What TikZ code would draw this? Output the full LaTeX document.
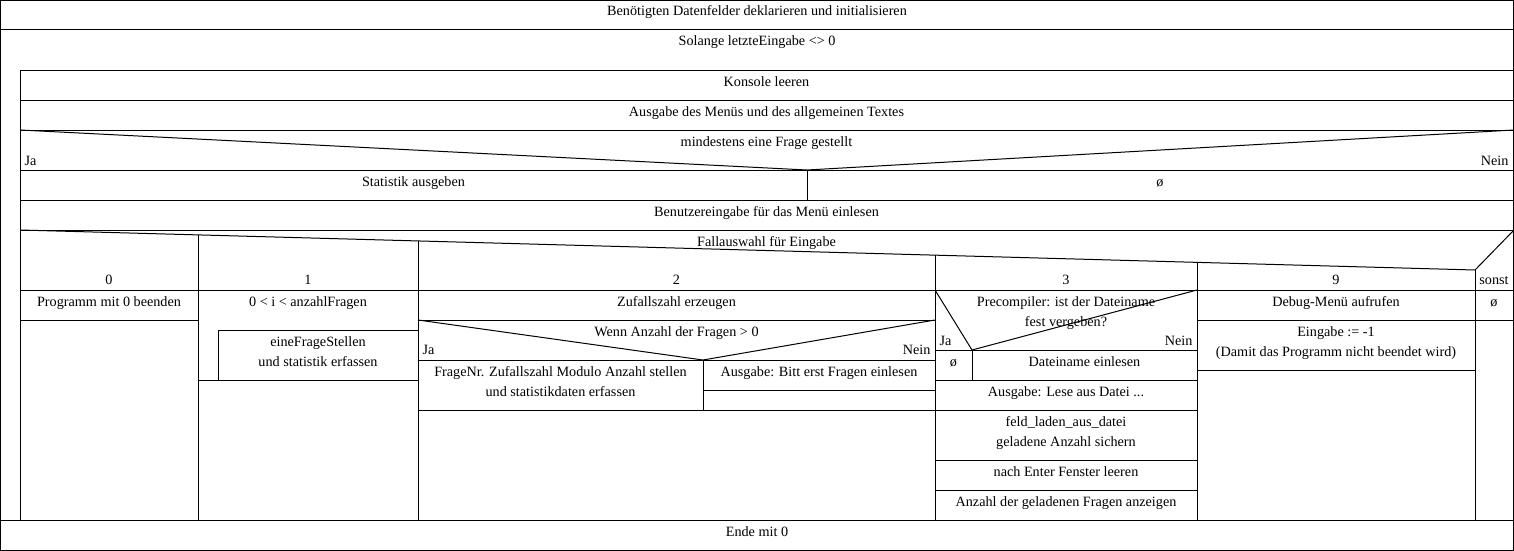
\documentclass[tikz,border=0pt]{standalone}
\usepackage{fontspec}
\setmainfont{Liberation Serif}
\begin{document}
\begin{tikzpicture}[x=1pt,y=-1pt,line width=1pt,
  lbl/.style={font=\fontsize{14.2}{20}\selectfont,inner sep=0pt,anchor=base},
  lblw/.style={lbl,anchor=base west},
  lble/.style={lbl,anchor=base east}]
\fill[white] (0,0) rectangle (1514,551);
\useasboundingbox (0,0) rectangle (1514,551);

% outer frame and top-level rows
\draw (0.5,0.5) rectangle (1513.5,550.5);
\draw (0,30) -- (1514,30);
\draw (0,520) -- (1514,520);

% loop body
\draw (20,70) -- (20,520);
\foreach \yy in {70,100,130,170,200,230,290}
  \draw (20,\yy) -- (1514,\yy);

% decision: at least one question asked
\draw (20,130) -- (807,170) -- (1514,130);
\draw (807,170) -- (807,200);

% case selection header
\draw (20,230) -- (1475,270) -- (1514,230);
\draw (198,234.9) -- (198,520);
\draw (418,240.9) -- (418,520);
\draw (935,255.2) -- (935,520);
\draw (1197,262.4) -- (1197,520);
\draw (1475,270) -- (1475,520);

% case 0
\draw (20,320) -- (198,320);
% case 1: counting loop
\draw (218,330) -- (418,330);
\draw (218,330) -- (218,380);
\draw (198,380) -- (418,380);
% case 2
\draw (418,320) -- (935,320);
\draw (418,320) -- (703,360) -- (935,320);
\draw (418,360) -- (935,360);
\draw (703,360) -- (703,410);
\draw (703,390) -- (935,390);
\draw (418,410) -- (935,410);
% case 3
\draw (935,290) -- (972,350) -- (1197,290);
\draw (935,350) -- (1197,350);
\draw (972,350) -- (972,380);
\foreach \yy in {380,410,460,490}
  \draw (935,\yy) -- (1197,\yy);
% case 9
\draw (1197,320) -- (1475,320);
\draw (1197,370) -- (1475,370);
% default
\draw (1475,320) -- (1514,320);

% texts
\node[lbl] (init) at (757,16) {Benötigten Datenfelder deklarieren und initialisieren};
\node[lbl] (loop) at (757,46) {Solange letzteEingabe <> 0};
\node[lbl] (cls) at (766.5,86) {Konsole leeren};
\node[lbl] (menu) at (766.5,116) {Ausgabe des Menüs und des allgemeinen Textes};
\node[lbl] (cond1) at (766.5,146) {mindestens eine Frage gestellt};
\node[lblw] (ja1) at (24,165.5) {Ja};
\node[lble] (nein1) at (1509,165.5) {Nein};
\node[lbl] (stat) at (413.5,186) {Statistik ausgeben};
\node[lbl] (empty1) at (1160,186) {ø};
\node[lbl] (input) at (766.5,216) {Benutzereingabe für das Menü einlesen};
\node[lbl] (sel) at (766.5,246) {Fallauswahl für Eingabe};

\node[lbl] (c0) at (109,284) {0};
\node[lbl] (c1) at (308,284) {1};
\node[lbl] (c2) at (676.5,284) {2};
\node[lbl] (c3) at (1066,284) {3};
\node[lbl] (c9) at (1336,284) {9};
\node[lbl] (cs) at (1494,284) {sonst};

\node[lbl] (quit) at (109,306) {Programm mit 0 beenden};
\node[lbl] (forq) at (308,306) {0 < i < anzahlFragen};
\node[lbl] (askA) at (318,346) {eineFrageStellen};
\node[lbl] (askB) at (318,366) {und statistik erfassen};

\node[lbl] (rnd) at (676.5,306) {Zufallszahl erzeugen};
\node[lbl] (cond2) at (676.5,336) {Wenn Anzahl der Fragen > 0};
\node[lblw] (ja2) at (422,354.5) {Ja};
\node[lble] (nein2) at (931,354.5) {Nein};
\node[lbl] (rndA) at (560.5,376) {FrageNr. Zufallszahl Modulo Anzahl stellen};
\node[lbl] (rndB) at (560.5,396) {und statistikdaten erfassen};
\node[lbl] (noq) at (819,376) {Ausgabe: Bitt erst Fragen einlesen};

\node[lbl] (preA) at (1066,306) {Precompiler: ist der Dateiname};
\node[lbl] (preB) at (1066,326) {fest vergeben?};
\node[lblw] (ja3) at (939,345.5) {Ja};
\node[lble] (nein3) at (1193,345.5) {Nein};
\node[lbl] (empty3) at (953.5,366) {ø};
\node[lbl] (fname) at (1084.5,366) {Dateiname einlesen};
\node[lbl] (read) at (1066,396) {Ausgabe: Lese aus Datei ...};
\node[lbl] (loadA) at (1066,426) {feld\_laden\_aus\_datei};
\node[lbl] (loadB) at (1066,446) {geladene Anzahl sichern};
\node[lbl] (enter) at (1066,476) {nach Enter Fenster leeren};
\node[lbl] (count) at (1066,506) {Anzahl der geladenen Fragen anzeigen};

\node[lbl] (debug) at (1336,306) {Debug-Menü aufrufen};
\node[lbl] (setA) at (1336,336) {Eingabe := -1};
\node[lbl] (setB) at (1336,356) {(Damit das Programm nicht beendet wird)};
\node[lbl] (empty9) at (1494,306) {ø};

\node[lbl] (end) at (757,536) {Ende mit 0};
\end{tikzpicture}
\end{document}
